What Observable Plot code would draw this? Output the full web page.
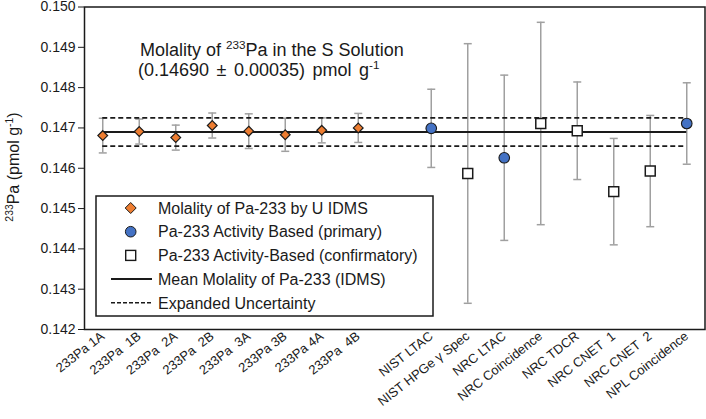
<!DOCTYPE html>
<html><head><meta charset="utf-8">
<script src="https://cdn.jsdelivr.net/npm/d3@7"></script>
<script src="https://cdn.jsdelivr.net/npm/@observablehq/plot@0.6"></script>
<style>
body{margin:0;background:#fff;font-family:"Liberation Sans",Arial,sans-serif}
#chart{position:relative;width:706px;height:419px}
</style>
</head><body><div id="chart"></div>
<script>
// ---- data ----
const idmsLabels = ["233Pa 1A","233Pa\u00a0 1B","233Pa\u00a0 2A","233Pa\u00a0 2B","233Pa\u00a0 3A","233Pa 3B","233Pa 4A","233Pa\u00a0 4B"];
const idmsValues = [0.14681,0.14691,0.14676,0.14706,0.14692,0.14683,0.14694,0.14700];
const idmsUnc    = [0.00043,0.00031,0.00031,0.00031,0.00043,0.00041,0.00031,0.00036];

const primaryLabels = ["NIST LTAC","NRC LTAC","NPL Coincidence"];
const primaryValues = [0.14699,0.14626,0.14711];
const primaryUnc    = [0.00097,0.00205,0.00101];

const confirmLabels = ["NIST HPGe \u03b3 Spec","NRC Coincidence","NRC TDCR","NRC CNET\u00a0 1","NRC CNET\u00a0 2"];
const confirmValues = [0.14587,0.14711,0.14693,0.14542,0.14593];
const confirmUnc    = [0.00322,0.00251,0.00121,0.00132,0.00138];

const axisOrder = [...idmsLabels, "", "NIST LTAC","NIST HPGe \u03b3 Spec","NRC LTAC","NRC Coincidence","NRC TDCR","NRC CNET\u00a0 1","NRC CNET\u00a0 2","NPL Coincidence"];
const meanMolality = 0.14690;
const expandedUnc = 0.00035;
const yTicks = [0.142,0.143,0.144,0.145,0.146,0.147,0.148,0.149,0.150];

const legendLabels = ["Molality of Pa-233 by U IDMS","Pa-233 Activity Based (primary)","Pa-233 Activity-Based (confirmatory)","Mean Molality of Pa-233 (IDMS)","Expanded Uncertainty"];

// ---- build tables ----
const mk = (labels, values, unc, group) => labels.map((l, k) => ({label: l, i: axisOrder.indexOf(l), v: values[k], u: unc[k], group}));
const idms = mk(idmsLabels, idmsValues, idmsUnc, "idms");
const primary = mk(primaryLabels, primaryValues, primaryUnc, "primary");
const confirm = mk(confirmLabels, confirmValues, confirmUnc, "confirm");
const all = [...idms, ...primary, ...confirm];
const caps = all.flatMap(d => [{i: d.i, y: d.v + d.u}, {i: d.i, y: d.v - d.u}]);
const tickIdx = axisOrder.map((l, i) => i).filter(i => axisOrder[i] !== "");
const firstI = 0, lastI = axisOrder.length - 1;

const capSymbol = {draw(ctx, size){ const w = Math.sqrt(size / Math.PI); ctx.moveTo(-w, 0); ctx.lineTo(w, 0); }};

const FONT = '"Liberation Sans", Arial, sans-serif';
const INK = "#1a1a1a";
const ERR = "#a0a0a0";

const plot = Plot.plot({
  width: 706,
  height: 419,
  marginLeft: 84,
  marginRight: 1.5,
  marginTop: 6.5,
  marginBottom: 90,
  style: {fontFamily: FONT, color: INK, background: "#fff"},
  x: {type: "linear", domain: [-0.5, axisOrder.length - 0.5]},
  y: {domain: [0.142, 0.150]},
  marks: [
    Plot.ruleX(all, {x: "i", y1: d => d.v - d.u, y2: d => d.v + d.u, stroke: ERR, strokeWidth: 1.5}),
    Plot.dot(caps, {x: "i", y: "y", symbol: capSymbol, r: 4, fill: "none", stroke: ERR, strokeWidth: 1.5}),
    Plot.ruleY([meanMolality], {x1: firstI, x2: lastI, stroke: INK, strokeWidth: 2}),
    Plot.ruleY([meanMolality - expandedUnc, meanMolality + expandedUnc], {x1: firstI, x2: lastI, stroke: INK, strokeWidth: 1.8, strokeDasharray: "5,3"}),
    Plot.dot(idms, {x: "i", y: "v", symbol: "diamond2", r: 4.4, fill: "#ED7D31", stroke: INK, strokeWidth: 1.2}),
    Plot.dot(primary, {x: "i", y: "v", symbol: "circle", r: 5.3, fill: "#4472C4", stroke: INK, strokeWidth: 1.1}),
    Plot.dot(confirm, {x: "i", y: "v", symbol: "square", r: 5.6, fill: "#fff", stroke: INK, strokeWidth: 1.5}),
    Plot.frame({stroke: INK, strokeWidth: 1.5}),
    Plot.axisY({ticks: yTicks, tickFormat: d3.format(".3f"), tickSize: 6, tickPadding: 3, fontSize: 14, label: null, stroke: INK, fill: INK}),
    Plot.axisX({ticks: tickIdx, tickFormat: i => axisOrder[i], tickRotate: -38, tickSize: 0, tickPadding: 5, fontSize: 13, label: null, fill: INK})
  ]
});
document.getElementById("chart").appendChild(plot);

// ---- annotations: title, y-axis label, legend ----
const svg = d3.select(plot.tagName.toLowerCase() === "svg" ? plot : plot.querySelector("svg"));
svg.selectAll("text").style("white-space", "pre");

function rich(g, parts, size) {
  parts.forEach(p => {
    if (p.sup) g.append("tspan").attr("dy", -size * 0.38).attr("font-size", size * 0.65).text(p.t);
    else g.append("tspan").attr("dy", p.after ? size * 0.38 : null).attr("font-size", size).text(p.t);
  });
}

const t1 = svg.append("text").attr("x", 140).attr("y", 56).attr("text-anchor", "start").attr("font-family", FONT).attr("fill", INK).attr("font-size", 18);
rich(t1, [{t: "Molality of "}, {t: "233", sup: true}, {t: "Pa in the S Solution", after: true}], 18);
const t2 = svg.append("text").attr("x", 138).attr("y", 75.5).attr("text-anchor", "start").attr("font-family", FONT).attr("fill", INK).attr("font-size", 18).attr("word-spacing", 2.5);
rich(t2, [{t: "(0.14690 \u00b1 0.00035) pmol g"}, {t: "-1", sup: true}], 18);

const yl = svg.append("text").attr("transform", "translate(19,167) rotate(-90)").attr("text-anchor", "middle").attr("font-family", FONT).attr("fill", INK).attr("font-size", 16);
rich(yl, [{t: "233", sup: true}, {t: "Pa (pmol g", after: true}, {t: "-1", sup: true}, {t: ")", after: true}], 16);

const lg = svg.append("g").attr("font-family", FONT).attr("font-size", 16).attr("fill", INK).attr("text-anchor", "start");
lg.append("rect").attr("x", 96).attr("y", 196).attr("width", 337).attr("height", 120).attr("fill", "#fff").attr("stroke", INK).attr("stroke-width", 1.5);
const rowY = k => 208 + k * 23.7;
const sx = 130.7;
lg.append("path").attr("d", `M${sx},${rowY(0)-5.5}L${sx+5.5},${rowY(0)}L${sx},${rowY(0)+5.5}L${sx-5.5},${rowY(0)}Z`).attr("fill", "#ED7D31").attr("stroke", INK).attr("stroke-width", 1);
lg.append("circle").attr("cx", sx).attr("cy", rowY(1)).attr("r", 5.3).attr("fill", "#4472C4").attr("stroke", INK).attr("stroke-width", 1);
lg.append("rect").attr("x", sx - 5).attr("y", rowY(2) - 5).attr("width", 10).attr("height", 10).attr("fill", "#fff").attr("stroke", INK).attr("stroke-width", 1.4);
lg.append("line").attr("x1", 111).attr("x2", 152).attr("y1", rowY(3)).attr("y2", rowY(3)).attr("stroke", INK).attr("stroke-width", 2);
lg.append("line").attr("x1", 111).attr("x2", 152).attr("y1", rowY(4)).attr("y2", rowY(4)).attr("stroke", INK).attr("stroke-width", 1.6).attr("stroke-dasharray", "4,2");
legendLabels.forEach((l, k) => lg.append("text").attr("x", 158).attr("y", rowY(k)).attr("dy", "0.36em").text(l));
</script>
</body></html>
